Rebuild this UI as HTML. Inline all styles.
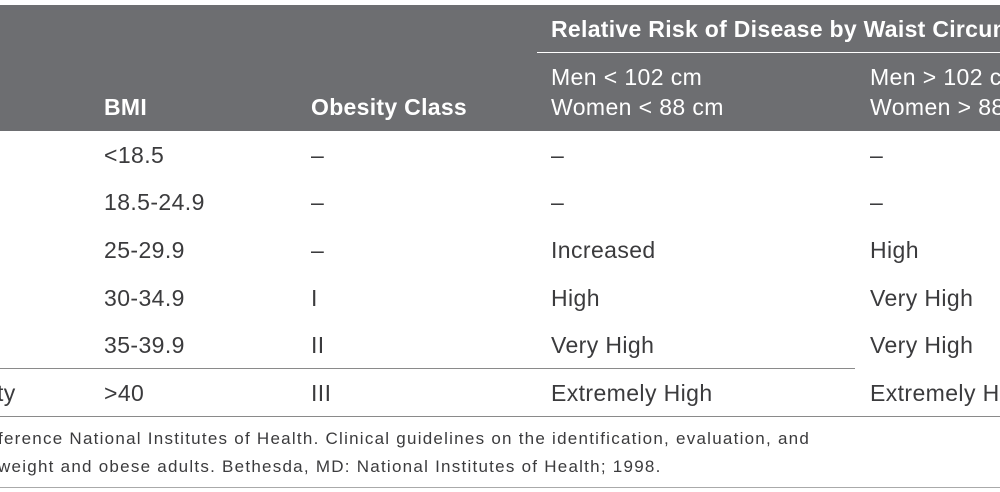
<!DOCTYPE html>
<html><head><style>
html,body{margin:0;width:1000px;height:492px;overflow:hidden}
body{background:#fff;position:relative;font-family:"Liberation Sans",sans-serif;color:#3b3b3d}
#c{position:absolute;left:0;top:0;width:1000px;height:492px;overflow:hidden}
.hd{position:absolute;left:0;top:5px;width:1000px;height:126px;background:#6d6e71}
.t{position:absolute;white-space:nowrap;font-size:23px;letter-spacing:0.4px;line-height:1}
.w{color:#fff}
.b{font-weight:bold;letter-spacing:0.3px}
.l{position:absolute;height:1px;background:#8a8a8a}
.f{position:absolute;white-space:nowrap;font-size:17px;letter-spacing:1.25px;line-height:1}
</style></head><body><div id="c">
<div class="hd"></div>
<div class="t w b" style="left:551px;top:18px">Relative Risk of Disease by Waist Circumference</div>
<div class="l" style="left:537px;top:52px;width:463px;background:#fff"></div>
<div class="t w" style="left:551px;top:66px">Men &lt; 102 cm</div>
<div class="t w" style="left:551px;top:96px">Women &lt; 88 cm</div>
<div class="t w" style="left:870px;top:66px">Men &gt; 102 cm</div>
<div class="t w" style="left:870px;top:96px">Women &gt; 88 cm</div>
<div class="t w b" style="left:104px;top:96px">BMI</div>
<div class="t w b" style="left:311px;top:96px">Obesity Class</div>

<div class="t" style="left:104px;top:144px">&lt;18.5</div>
<div class="t" style="left:311px;top:144px">–</div>
<div class="t" style="left:551px;top:144px">–</div>
<div class="t" style="left:870px;top:144px">–</div>

<div class="t" style="left:104px;top:191px">18.5-24.9</div>
<div class="t" style="left:311px;top:191px">–</div>
<div class="t" style="left:551px;top:191px">–</div>
<div class="t" style="left:870px;top:191px">–</div>

<div class="t" style="left:104px;top:239px">25-29.9</div>
<div class="t" style="left:311px;top:239px">–</div>
<div class="t" style="left:551px;top:239px">Increased</div>
<div class="t" style="left:870px;top:239px">High</div>

<div class="t" style="left:104px;top:287px">30-34.9</div>
<div class="t" style="left:311px;top:287px">I</div>
<div class="t" style="left:551px;top:287px">High</div>
<div class="t" style="left:870px;top:287px">Very High</div>

<div class="t" style="left:104px;top:334px">35-39.9</div>
<div class="t" style="left:311px;top:334px">II</div>
<div class="t" style="left:551px;top:334px">Very High</div>
<div class="t" style="left:870px;top:334px">Very High</div>
<div class="l" style="left:0;top:368px;width:855px"></div>

<div class="t" style="left:-3px;top:382px">ty</div>
<div class="t" style="left:104px;top:382px">&gt;40</div>
<div class="t" style="left:311px;top:382px">III</div>
<div class="t" style="left:551px;top:382px">Extremely High</div>
<div class="t" style="left:870px;top:382px">Extremely High</div>
<div class="l" style="left:0;top:416px;width:1000px"></div>

<div class="f" style="left:-2px;top:430px">ference National Institutes of Health. Clinical guidelines on the identification, evaluation, and</div>
<div class="f" style="left:-2px;top:458px">weight and obese adults. Bethesda, MD: National Institutes of Health; 1998.</div>
<div class="l" style="left:0;top:487px;width:1000px;background:#aaa"></div>
</div></body></html>
